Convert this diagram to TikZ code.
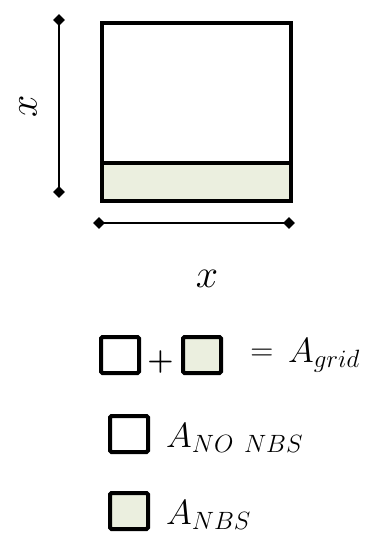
\RequirePackage{fix-cm}
\documentclass[tikz,border=0pt]{standalone}
\usetikzlibrary{shapes.geometric}
\DeclareMathSizes{35}{35}{25}{18}
\definecolor{nbsgreen}{RGB}{235,239,223}
\tikzset{
  dia/.style={diamond, fill=black, inner sep=0pt, minimum size=12pt},
  dimline/.style={line width=1.8pt},
  heavy/.style={line width=4pt},
  legbox/.style={draw, line width=4pt, rounded corners=1.5pt, minimum width=38pt, minimum height=36pt, inner sep=0pt, anchor=north west},
  mlabel/.style={inner sep=0pt, font=\fontsize{40}{48}\selectfont},
  alabel/.style={inner sep=0pt, anchor=base west, font=\fontsize{35}{42}\selectfont}
}
\begin{document}
\begin{tikzpicture}[x=1pt,y=-1pt]
\useasboundingbox (0,0) rectangle (373,541);
% main grid square
\node[fill=nbsgreen, inner sep=0pt, minimum width=189pt, minimum height=36pt, anchor=south west] (nbs) at (100,199) {};
\node[draw, heavy, inner sep=0pt, minimum width=189pt, minimum height=178pt, anchor=north west] (grid) at (100,21) {};
\draw[heavy] (grid.west |- 0,163) -- (grid.east |- 0,163);
% vertical dimension
\node[dia] (v1) at (59,20) {};
\node[dia] (v2) at (59,192) {};
\draw[dimline] (v1.center) -- (v2.center);
\node[mlabel, rotate=90] (xl) at (28,106) {$x$};
% horizontal dimension
\node[dia] (h1) at (99,223) {};
\node[dia] (h2) at (289,223) {};
\draw[dimline] (h1.center) -- (h2.center);
\node[mlabel] (xb) at (207,279) {$x$};
% legend row 1
\node[legbox] (b1) at (99,335) {};
\node[inner sep=0pt, font=\fontsize{30}{36}\selectfont\bfseries] (plus) at (160.5,362) {+};
\node[legbox, fill=nbsgreen] (b2) at (181,335) {};
\node[inner sep=0pt, font=\fontsize{32}{38}\selectfont] (eq) at (262,355) {$=$};
\node[alabel] (agrid) at (288,362) {$A_{grid}$};
% legend row 2
\node[legbox] (b3) at (108,414) {};
\node[alabel] (anonbs) at (166,447) {$A_{NO\ NBS}$};
% legend row 3
\node[legbox, fill=nbsgreen] (b4) at (108,491) {};
\node[alabel] (anbs) at (166,524) {$A_{NBS}$};
\end{tikzpicture}
\end{document}
